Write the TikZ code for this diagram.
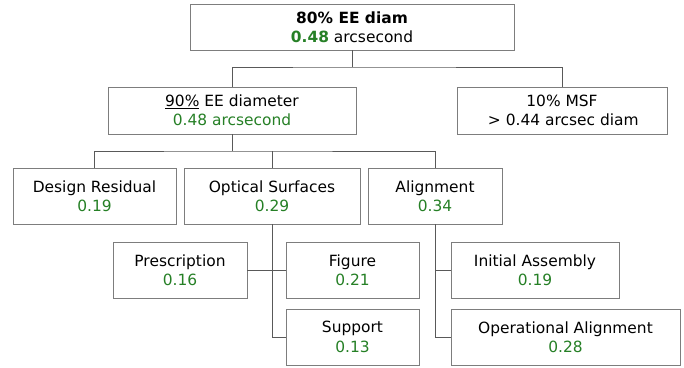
\documentclass[tikz,border=0pt]{standalone}
\usepackage{fontspec}
\setmainfont{DejaVu Sans}
\usepackage{xcolor}
\usetikzlibrary{calc}
\definecolor{eegreen}{RGB}{38,128,38}
\definecolor{boxgray}{RGB}{125,125,125}
\newcommand{\gv}[1]{\textcolor{eegreen}{#1}}
\tikzset{bx/.style={draw=boxgray,line width=.9bp,fill=white,inner sep=0pt,align=center,minimum height=56bp},
 wire/.style={draw=black!65,line width=.9bp}}
\begin{document}
\begin{tikzpicture}[x=1bp,y=-1bp,font=\fontsize{15.5}{19.5}\selectfont]
\useasboundingbox (0,0) rectangle (684,367);
\node[bx,minimum width=324bp,minimum height=46bp](top) at (352,27){\textbf{80\% EE diam}\\\gv{\textbf{0.48}} arcsecond};
\node[bx,minimum width=248bp,minimum height=47bp](ee90) at (232,110.5){\underline{90\%} EE diameter\\\gv{0.48 arcsecond}};
\node[bx,minimum width=210bp,minimum height=47bp](msf) at (562,110.5){10\% MSF\\\,> 0.44 arcsec diam};
\node[bx,minimum width=163bp](design) at (94.5,196){Design Residual\\\gv{0.19}};
\node[bx,minimum width=176bp](optical) at (272,196){Optical Surfaces\\\gv{0.29}};
\node[bx,minimum width=134bp](align) at (435,196){Alignment\\\gv{0.34}};
\node[bx,minimum width=134bp](presc) at (180,270){Prescription\\\gv{0.16}};
\node[bx,minimum width=133bp](figure) at (352.5,270){Figure\\\gv{0.21}};
\node[bx,minimum width=133bp](support) at (352.5,337){Support\\\gv{0.13}};
\node[bx,minimum width=168bp](initial) at (535,270){Initial Assembly\\\gv{0.19}};
\node[bx,minimum width=229bp](opal) at (565.5,337){Operational Alignment\\\gv{0.28}};
% tree connectors
\coordinate (j1) at (352,67); \coordinate (j2) at (232,151);
\draw[wire](top.south)--(j1); \draw[wire](ee90.north)|-(j1)-|(msf.north);
\draw[wire](ee90.south)--(j2); \draw[wire](design.north)|-(j2)-|(align.north);
\draw[wire](optical.north)--(optical.north|-j2);
\draw[wire](optical.south)|-(support.west); \draw[wire](presc.east)--(figure.west);
\draw[wire](align.south)|-(opal.west); \draw[wire](initial.west)--(initial.west-|align.south);
\end{tikzpicture}
\end{document}
